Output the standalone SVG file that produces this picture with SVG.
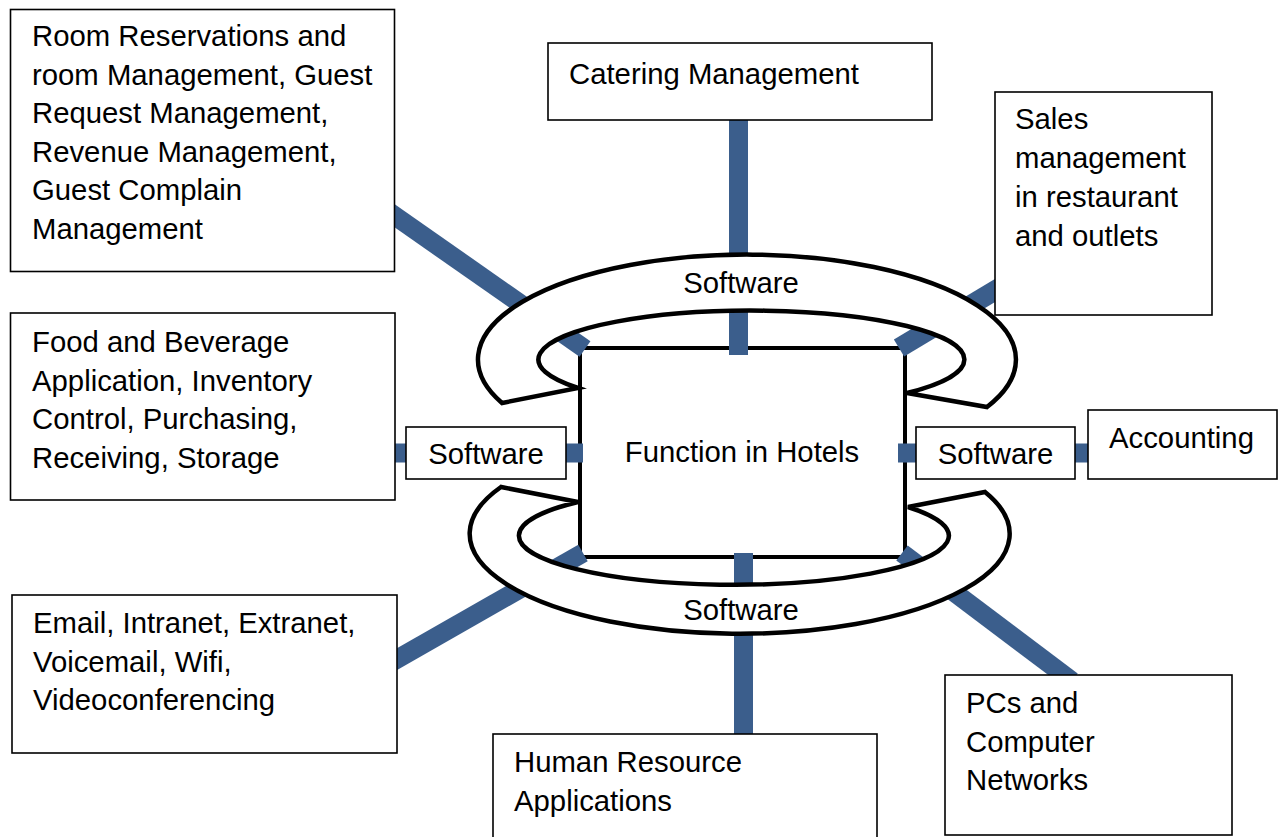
<svg xmlns="http://www.w3.org/2000/svg" width="1285" height="837" viewBox="0 0 1285 837">
  <style>
    text { font-family: "Liberation Sans", Arial, sans-serif; font-size: 29.3px; fill: #000; }
    .box { fill: #fff; stroke: #000; stroke-width: 1.6; }
    .core { fill: #fff; stroke: #000; stroke-width: 4; }
    .band { fill: #fff; stroke: #000; stroke-width: 4.5; stroke-linejoin: miter; }
    .link { stroke: #3B5E8C; stroke-width: 19; fill: none; stroke-linecap: butt; }
    .mid { text-anchor: middle; }
  </style>

  <!-- central function box -->
  <g id="hotel-functions">
    <rect class="core" x="580" y="348" width="325" height="209"/>
    <text class="mid" x="742" y="462">Function in Hotels</text>
  </g>

  <!-- connectors -->
  <g id="connectors">
    <path class="link" d="M738.5 120 V355"/>
    <path class="link" d="M743.5 553 V734"/>
    <path class="link" d="M395 453 H406 M566 453 H583"/>
    <path class="link" d="M898 453 H916 M1075 453 H1088"/>
    <path class="link" d="M380 205.5 L585 349"/>
    <path class="link" style="stroke-width:20" d="M899 348 L1010 281.5"/>
    <path class="link" d="M385 666 L583 553"/>
    <path class="link" d="M902 553 L1072 681"/>
  </g>

  <!-- software ring, upper half -->
  <g id="software-top">
    <path class="band" d="M502 403 A269 105 0 1 1 987 407 L907 393 A213 49 0 1 0 578 388 Z"/>
    <text class="mid" x="741" y="293">Software</text>
  </g>

  <!-- software ring, lower half -->
  <g id="software-bottom">
    <path class="band" d="M501 487 A270 100 0 1 0 985 492 L908 507 A215 49 0 1 1 578 502 Z"/>
    <text class="mid" x="741" y="620">Software</text>
  </g>

  <g id="software-left">
    <rect class="box" x="406" y="427" width="160" height="52"/>
    <text class="mid" x="486" y="464">Software</text>
  </g>

  <g id="software-right">
    <rect class="box" x="916" y="427" width="159" height="52"/>
    <text class="mid" x="995.5" y="464">Software</text>
  </g>

  <g id="rooms">
    <rect class="box" x="10.5" y="9.5" width="384" height="262"/>
    <text x="32" y="46">Room Reservations and</text>
    <text x="32" y="84.6">room Management, Guest</text>
    <text x="32" y="123.2">Request Management,</text>
    <text x="32" y="161.8">Revenue Management,</text>
    <text x="32" y="200.4">Guest Complain</text>
    <text x="32" y="239">Management</text>
  </g>

  <g id="catering">
    <rect class="box" x="548" y="43" width="384" height="77"/>
    <text x="569" y="84">Catering Management</text>
  </g>

  <g id="sales">
    <rect class="box" x="995" y="92" width="217" height="223"/>
    <text x="1015" y="129">Sales</text>
    <text x="1015" y="168">management</text>
    <text x="1015" y="207">in restaurant</text>
    <text x="1015" y="246">and outlets</text>
  </g>

  <g id="food-beverage">
    <rect class="box" x="10.5" y="313" width="384.5" height="187"/>
    <text x="32" y="352">Food and Beverage</text>
    <text x="32" y="390.6">Application, Inventory</text>
    <text x="32" y="429.2">Control, Purchasing,</text>
    <text x="32" y="467.8">Receiving, Storage</text>
  </g>

  <g id="accounting">
    <rect class="box" x="1088" y="410" width="189" height="69"/>
    <text x="1109" y="448">Accounting</text>
  </g>

  <g id="communications">
    <rect class="box" x="12" y="595" width="385" height="158"/>
    <text x="33" y="633">Email, Intranet, Extranet,</text>
    <text x="33" y="671.6">Voicemail, Wifi,</text>
    <text x="33" y="710.2">Videoconferencing</text>
  </g>

  <g id="human-resources">
    <rect class="box" x="493" y="734" width="384" height="120"/>
    <text x="514" y="772">Human Resource</text>
    <text x="514" y="810.6">Applications</text>
  </g>

  <g id="computers">
    <rect class="box" x="945" y="675" width="287" height="160"/>
    <text x="966" y="713">PCs and</text>
    <text x="966" y="751.6">Computer</text>
    <text x="966" y="790.2">Networks</text>
  </g>
</svg>
